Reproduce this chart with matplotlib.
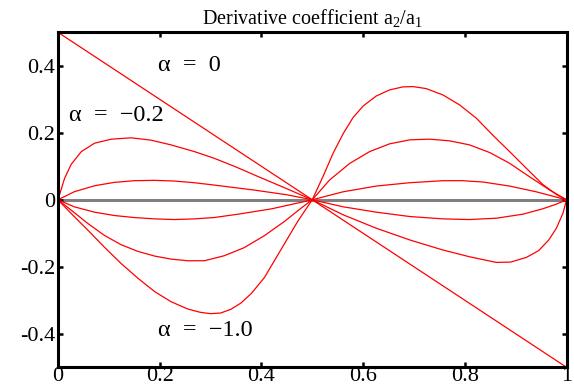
import numpy as np
import matplotlib
matplotlib.use("Agg")
import matplotlib.pyplot as plt

plt.rcParams["font.family"] = ["Liberation Serif", "DejaVu Serif"]
plt.rcParams["mathtext.fontset"] = "custom"
plt.rcParams["mathtext.rm"] = "Liberation Serif"
plt.rcParams["mathtext.it"] = "Liberation Serif:italic"

# curves, one per alpha value
x_a0 = [0.0, 1.0]
y_a0 = [0.5, -0.5]

x_a02 = [0, 0.013, 0.026, 0.046, 0.072, 0.105, 0.144, 0.183, 0.222, 0.268, 0.307, 0.35,
         0.394, 0.45, 0.5, 0.561, 0.626, 0.692, 0.757, 0.809, 0.862, 0.89, 0.921, 0.945,
         0.965, 0.980, 0.993, 1.0]
y_a02 = [0, 0.064, 0.106, 0.144, 0.169, 0.181, 0.185, 0.178, 0.164, 0.144, 0.124, 0.098,
         0.069, 0.033, 0, -0.045, -0.085, -0.120, -0.150, -0.170, -0.187, -0.186, -0.172,
         -0.152, -0.120, -0.085, -0.040, 0]

x_a04 = [0, 0.032, 0.072, 0.111, 0.150, 0.190, 0.229, 0.268, 0.307, 0.386, 0.45, 0.5,
         0.561, 0.626, 0.692, 0.757, 0.809, 0.862, 0.914, 0.953, 0.980, 1.0]
y_a04 = [0, 0.024, 0.042, 0.052, 0.057, 0.058, 0.056, 0.051, 0.044, 0.029, 0.015, 0,
         -0.021, -0.037, -0.050, -0.057, -0.059, -0.055, -0.043, -0.027, -0.013, 0]

x_a06 = [0, 0.032, 0.072, 0.111, 0.150, 0.190, 0.229, 0.268, 0.307, 0.354, 0.42, 0.5,
         0.561, 0.626, 0.692, 0.757, 0.796, 0.836, 0.888, 0.940, 1.0]
y_a06 = [0, -0.021, -0.037, -0.047, -0.053, -0.057, -0.059, -0.057, -0.053, -0.043, -0.027, 0,
         0.024, 0.041, 0.051, 0.057, 0.057, 0.053, 0.041, 0.024, 0]

x_a08 = [0, 0.026, 0.059, 0.091, 0.124, 0.157, 0.190, 0.222, 0.255, 0.288, 0.327, 0.366,
         0.406, 0.445, 0.478, 0.5, 0.534, 0.574, 0.613, 0.652, 0.692, 0.731, 0.770, 0.809,
         0.849, 0.888, 0.927, 0.967, 1.0]
y_a08 = [0, -0.031, -0.071, -0.106, -0.134, -0.154, -0.168, -0.177, -0.182, -0.182, -0.167,
         -0.143, -0.107, -0.065, -0.025, 0, 0.059, 0.109, 0.144, 0.167, 0.179, 0.181, 0.176,
         0.164, 0.141, 0.109, 0.069, 0.029, 0]

x_a10 = [0, 0.026, 0.059, 0.091, 0.124, 0.157, 0.190, 0.222, 0.255, 0.28, 0.30, 0.32,
         0.34, 0.36, 0.38, 0.406, 0.438, 0.472, 0.5, 0.521, 0.541, 0.561, 0.580, 0.600, 0.626,
         0.652, 0.678, 0.698, 0.724, 0.757, 0.790, 0.823, 0.855, 0.888, 0.921, 0.953, 0.980, 1.0]
y_a10 = [0, -0.041, -0.091, -0.141, -0.190, -0.234, -0.274, -0.304, -0.326, -0.336, -0.340,
         -0.338, -0.327, -0.308, -0.280, -0.232, -0.150, -0.063, 0, 0.069, 0.139, 0.198, 0.245,
         0.280, 0.310, 0.328, 0.337, 0.338, 0.332, 0.313, 0.283, 0.243, 0.193, 0.144, 0.094,
         0.046, 0.016, 0]

curves = [(x_a0, y_a0), (x_a02, y_a02), (x_a04, y_a04),
          (x_a06, y_a06), (x_a08, y_a08), (x_a10, y_a10)]

x_ticks = [0, 0.2, 0.4, 0.6, 0.8, 1.0]
x_ticklabels = ["0", "0.2", "0.4", "0.6", "0.8", "1"]
y_ticks = [-0.4, -0.2, 0, 0.2, 0.4]
y_ticklabels = ["-0.4", "-0.2", "0", "0.2", "0.4"]

labels = [("\u03b1  =  0", 0.259, 0.402),
          ("\u03b1  =  \u22120.2", 0.114, 0.253),
          ("\u03b1  =  \u22121.0", 0.29, -0.389)]

fig = plt.figure(figsize=(5.74, 3.87), dpi=100)
ax = fig.add_axes([0.101, 0.051, 0.886, 0.8655])

ax.plot([0, 1], [0, 0], color="#808080", linewidth=2.2, zorder=1)
for xs, ys in curves:
    ax.plot(xs, ys, color="red", linewidth=0.9, zorder=2, clip_on=False)

for text, tx, ty in labels:
    ax.text(tx, ty, text, fontsize=17.5, ha="center", va="center")

ax.set_xlim(0, 1)
ax.set_ylim(-0.5, 0.5)
ax.set_xticks(x_ticks)
ax.set_xticklabels(x_ticklabels)
ax.set_yticks(y_ticks)
ax.set_yticklabels(y_ticklabels)
ax.tick_params(direction="in", length=3.5, width=1.8, labelsize=16, pad=2,
               top=True, right=True)
ax.tick_params(axis="x", pad=0)
for sp in ax.spines.values():
    sp.set_linewidth(2.2)

ax.set_title("Derivative coefficient a$_2$/a$_1$", fontsize=14.5, pad=6)

fig.savefig("out.png", dpi=100)
plt.close(fig)
